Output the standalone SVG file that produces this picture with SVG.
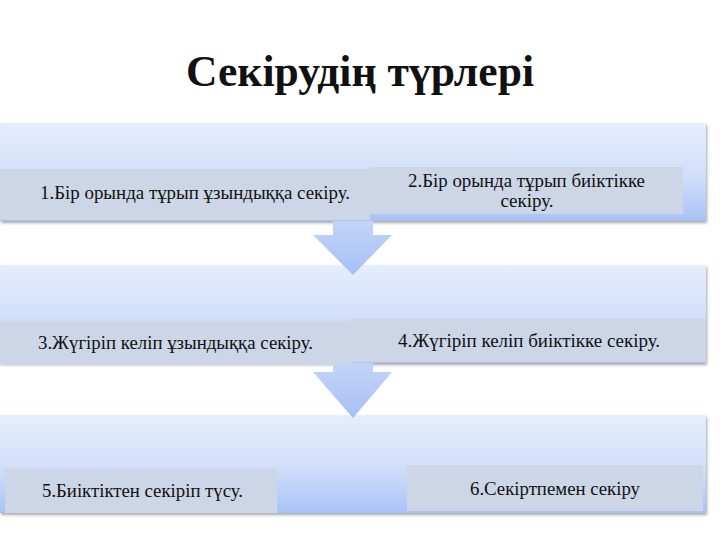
<svg xmlns="http://www.w3.org/2000/svg" width="720" height="540" viewBox="0 0 720 540">
<defs>
<linearGradient id="band" x1="0" y1="0" x2="0" y2="1">
<stop offset="0" stop-color="#e6eefc"/>
<stop offset="0.5" stop-color="#d3e0fa"/>
<stop offset="1" stop-color="#a9c2f6"/>
</linearGradient>
<linearGradient id="arrow" x1="0" y1="0" x2="0" y2="1">
<stop offset="0" stop-color="#c3d4f8"/>
<stop offset="1" stop-color="#a6bff5"/>
</linearGradient>
<filter id="sh" x="-5%" y="-10%" width="110%" height="125%">
<feGaussianBlur in="SourceAlpha" stdDeviation="1.5"/>
<feOffset dx="1" dy="2" result="b"/>
<feComponentTransfer><feFuncA type="linear" slope="0.35"/></feComponentTransfer>
<feMerge><feMergeNode/><feMergeNode in="SourceGraphic"/></feMerge>
</filter>
</defs>
<style>
.band{fill:url(#band);filter:url(#sh)}
.sub{fill:#cdd6e6}
.arr{fill:url(#arrow)}
.t{font-family:"Liberation Serif","Times New Roman",serif;font-size:19px;fill:#111}
.title{font-family:"Liberation Serif","Times New Roman",serif;font-size:44px;font-weight:bold;fill:#111}
</style>
<rect width="720" height="540" fill="#ffffff"/>
<text class="title" x="360" y="86" text-anchor="middle" textLength="348" lengthAdjust="spacingAndGlyphs">Секірудің түрлері</text>
<g id="band3">
<rect class="band" x="0" y="415" width="706" height="98"/>
</g>
<g id="band2">
<rect class="band" x="0" y="265" width="706" height="98"/>
</g>
<g id="band1">
<rect class="band" x="0" y="123" width="706" height="98"/>
</g>
<g id="connectors">
<path class="arr" d="M333,221 H373 V235 H392 L353,275 L313,235 H333 Z"/>
<path class="arr" d="M333,363 H373 V372 H392 L353,418 L313,372 H333 Z"/>
</g>
<g id="n1">
<rect class="sub" x="0" y="169" width="370" height="51"/>
<text class="t" x="40" y="199" textLength="310" lengthAdjust="spacingAndGlyphs">1.Бір орында тұрып ұзындыққа секіру.</text>
</g>
<g id="n2">
<rect class="sub" x="370" y="167" width="313" height="47"/>
<text class="t" x="408" y="187" textLength="237" lengthAdjust="spacingAndGlyphs">2.Бір орында тұрып биіктікке</text>
<text class="t" x="527" y="207" text-anchor="middle">секіру.</text>
</g>
<g id="n3">
<rect class="sub" x="0" y="321" width="352" height="44"/>
<text class="t" x="38" y="349" textLength="275" lengthAdjust="spacingAndGlyphs">3.Жүгіріп келіп ұзындыққа секіру.</text>
</g>
<g id="n4">
<rect class="sub" x="350" y="319" width="356" height="43"/>
<text class="t" x="398" y="347" textLength="262" lengthAdjust="spacingAndGlyphs">4.Жүгіріп келіп биіктікке секіру.</text>
</g>
<g id="n5">
<rect class="sub" x="5" y="469" width="272" height="44"/>
<text class="t" x="42" y="497" textLength="201" lengthAdjust="spacingAndGlyphs">5.Биіктіктен секіріп түсу.</text>
</g>
<g id="n6">
<rect class="sub" x="407" y="465" width="296" height="46"/>
<text class="t" x="470" y="495" textLength="170" lengthAdjust="spacingAndGlyphs">6.Секіртпемен секіру</text>
</g>
</svg>
